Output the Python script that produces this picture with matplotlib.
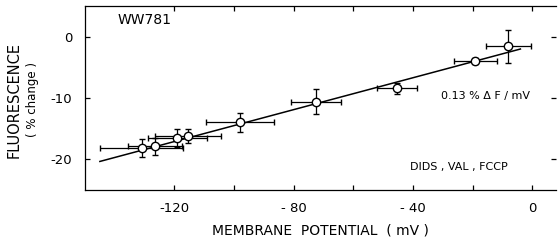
import matplotlib.pyplot as plt
import numpy as np

# membrane potential (mV) and fluorescence change (%)
potential = [-131, -126.5, -119, -115.5, -98, -72.5, -45.3, -19.2, -8]
fluor = [-18.2, -17.9, -16.5, -16.2, -14.0, -10.6, -8.4, -4.0, -1.6]
pot_err = [14, 9, 10, 11, 11.5, 8.5, 6.7, 7.2, 7.5]
fluor_err = [1.45, 1.4, 1.5, 1.2, 1.5, 2.0, 0.9, 0.5, 2.7]

# fitted line, 0.13 % per mV
fit_x = [-145, -4]
slope = 0.13
intercept = -1.5

xticks = [-120, -100, -80, -60, -40, -20, 0]
xticklabels = ['-120', '', '- 80', '', '- 40', '', '0']
yticks = [0, -10, -20]
yticklabels = ['0', '-10', '-20']

fig = plt.figure(figsize=(5.59, 2.48), dpi=100)
ax = fig.add_axes([0.152, 0.234, 0.843, 0.742])

fx = np.array(fit_x)
ax.plot(fx, slope * fx + intercept, color='black', lw=1.1, zorder=1)

ax.errorbar(potential, fluor, xerr=pot_err, yerr=fluor_err, fmt='o',
            color='black', mfc='white', mec='black', ms=6, mew=1.0,
            elinewidth=0.9, capsize=2.5, capthick=0.9, zorder=2)

ax.set_xlim(-150, 8)
ax.set_ylim(-25, 5)
ax.set_xticks(xticks)
ax.set_xticklabels(xticklabels)
ax.set_yticks(yticks)
ax.set_yticklabels(yticklabels)
ax.tick_params(direction='in', length=3.5, width=0.9, labelsize=9.5,
               top=True, right=True, pad=9)
ax.spines['right'].set_visible(False)
for s in ['left', 'top', 'bottom']:
    ax.spines[s].set_linewidth(0.9)

ax.text(-139, 2.0, 'WW781', fontsize=10)
ax.text(-30.6, -9.6, '0.13 % \u0394 F / mV', fontsize=8, va='center')
ax.text(-41, -21.3, 'DIDS , VAL , FCCP', fontsize=8, va='center')

ax.set_xlabel('MEMBRANE  POTENTIAL  ( mV )', fontsize=10, labelpad=6)
fig.text(0.026, 0.597, 'FLUORESCENCE', rotation=90, fontsize=10.5,
         ha='center', va='center')
fig.text(0.058, 0.597, '( % change )', rotation=90, fontsize=8.5,
         ha='center', va='center')

fig.savefig('out.png', dpi=100)
